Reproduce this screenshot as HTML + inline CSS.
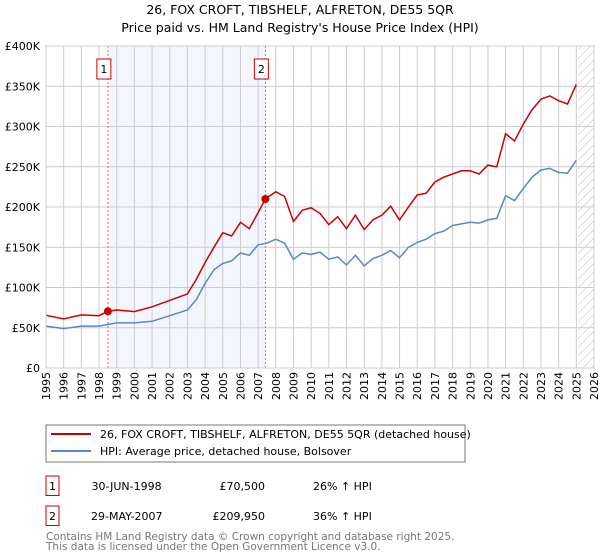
<!DOCTYPE html>
<html><head><meta charset="utf-8"><style>
body{margin:0;background:#fff;font-family:"Liberation Sans","DejaVu Sans",sans-serif}
#w{position:relative;width:600px;height:560px;overflow:hidden}
</style></head><body>
<div id="w">
<svg id="s" width="600" height="560" xmlns="http://www.w3.org/2000/svg" style="font-family:'DejaVu Sans',sans-serif">
<defs><pattern id="h" width="6" height="6" patternUnits="userSpaceOnUse" patternTransform="rotate(45)"><line x1="0" y1="0" x2="0" y2="6" stroke="#bbb" stroke-width="1"/></pattern></defs>
<text x="300" y="14" text-anchor="middle" font-size="12.5">26, FOX CROFT, TIBSHELF, ALFRETON, DE55 5QR</text>
<text x="300" y="32" text-anchor="middle" font-size="12.5">Price paid vs. HM Land Registry's House Price Index (HPI)</text>
<g id="g"></g>
<rect x="46" y="425" width="419" height="37" fill="#fff" stroke="#777"/>
<line x1="51" y1="434" x2="91" y2="434" stroke="#cc0000" stroke-width="2"/>
<text x="100" y="438" font-size="11">26, FOX CROFT, TIBSHELF, ALFRETON, DE55 5QR (detached house)</text>
<line x1="51" y1="451" x2="91" y2="451" stroke="#5588cc" stroke-width="2"/>
<text x="100" y="455" font-size="11">HPI: Average price, detached house, Bolsover</text>
<g font-size="11">
<rect x="46" y="476" width="13" height="19.5" fill="#fff" stroke="#cc0000"/><text x="52.5" y="490" text-anchor="middle">1</text>
<text x="91.5" y="490">30-JUN-1998</text><text x="265" y="490" text-anchor="end">£70,500</text><text x="313" y="490">26% ↑ HPI</text>
<rect x="46" y="506" width="13" height="19.5" fill="#fff" stroke="#cc0000"/><text x="52.5" y="520" text-anchor="middle">2</text>
<text x="91" y="520">29-MAY-2007</text><text x="265" y="520" text-anchor="end">£209,950</text><text x="313" y="520">36% ↑ HPI</text>
</g>
<text x="46" y="540" font-size="10.5" fill="#777">Contains HM Land Registry data © Crown copyright and database right 2025.</text>
<text x="46" y="550" font-size="10.5" fill="#777">This data is licensed under the Open Government Licence v3.0.</text>
</svg></div>
<script>
const redYears=[1995,1996,1997,1998,1998.5,1999,2000,2001,2002,2003,2003.5,2004,2004.5,2005,2005.5,2006,2006.5,2007,2007.41,2008,2008.5,2009,2009.5,2010,2010.5,2011,2011.5,2012,2012.5,2013,2013.5,2014,2014.5,2015,2015.5,2016,2016.5,2017,2017.5,2018,2018.5,2019,2019.5,2020,2020.5,2021,2021.5,2022,2022.5,2023,2023.5,2024,2024.5,2025];
const redValues=[65.5,61,66,65,70.5,72,70,76,84,92,110,131,150,168,164,181,173,193,209.95,219,213,182,196,199,192,178,188,173,190,172,184,190,201,184,200,215,217,231,237,241,245,245,241,252,250,291,282,303,321,334,338,332,328,352];
const hpiYears=[1995,1996,1997,1998,1999,2000,2001,2002,2003,2003.5,2004,2004.5,2005,2005.5,2006,2006.5,2007,2007.5,2008,2008.5,2009,2009.5,2010,2010.5,2011,2011.5,2012,2012.5,2013,2013.5,2014,2014.5,2015,2015.5,2016,2016.5,2017,2017.5,2018,2018.5,2019,2019.5,2020,2020.5,2021,2021.5,2022,2022.5,2023,2023.5,2024,2024.5,2025];
const hpiValues=[52,49,52,52,56,56,58,65,72,85,105,122,130,133,143,140,153,155,160,155,135,143,141,144,135,138,128,140,127,136,140,146,137,150,156,160,167,170,177,179,181,180,184,186,214,208,223,237,246,248,243,242,258];
const yTicks=[0,50,100,150,200,250,300,350,400];
const yTickLabels=["£0","£50K","£100K","£150K","£200K","£250K","£300K","£350K","£400K"];
const sales=[{n:"1",t:1998.5,v:70.5},{n:"2",t:2007.41,v:209.95}];
const X0=46,X1=594,Y0=368,Y1=46;
const x=t=>X0+(t-1995)/31*(X1-X0);
const y=v=>Y0-v/400*(Y0-Y1);
const NS="http://www.w3.org/2000/svg",g=document.getElementById('g');
function mk(tag,at,txt){const e=document.createElementNS(NS,tag);for(const k in at)e.setAttribute(k,at[k]);if(txt!=null)e.textContent=txt;g.appendChild(e);return e;}
let e;
e=mk('rect',{x:X0,y:Y1,width:X1-X0,height:Y0-Y1,fill:'#fff'});
e=mk('rect',{x:x(1998.5),y:Y1,width:x(2007.41)-x(1998.5),height:Y0-Y1,fill:'#eef3fc',opacity:0.7});


e=mk('rect',{x:x(2025.1),y:Y1,width:X1-x(2025.1),height:Y0-Y1,fill:'url(#h)'});


for(let yr=1995;yr<=2026;yr++){
 e=mk('line',{x1:x(yr),x2:x(yr),y1:Y1,y2:Y0,stroke:'#ccc','stroke-width':1});
 
 
 e=mk('text',{transform:`translate(${x(yr)+4},${Y0+4}) rotate(-90)`,'text-anchor':'end','font-size':11},String(yr));
 
 
}
yTicks.forEach((v,i)=>{
 e=mk('line',{x1:X0,x2:X1,y1:y(v),y2:y(v),stroke:'#ccc','stroke-width':1});
 
 
 e=mk('text',{x:X0-6,y:y(v)+4,'text-anchor':'end','font-size':11},yTickLabels[i]);
 
 
});
sales.forEach(s=>{
 e=mk('line',{x1:x(s.t),x2:x(s.t),y1:Y1,y2:Y0,stroke:'#e66','stroke-width':1,'stroke-dasharray':'2,2'});
 
 
});
function path(xs,vs){return xs.map((t,i)=>(i?'L':'M')+x(t).toFixed(1)+','+y(vs[i]).toFixed(1)).join('');}
e=mk('path',{d:path(hpiYears,hpiValues),fill:'none',stroke:'#5588cc','stroke-width':1.5});


e=mk('path',{d:path(redYears,redValues),fill:'none',stroke:'#cc0000','stroke-width':1.5});


sales.forEach(s=>{
 e=mk('circle',{cx:x(s.t),cy:y(s.v),r:4,fill:'#cc0000'});
 
 
 e=mk('rect',{x:x(s.t)-11,y:59,width:14,height:20,fill:'#fff',stroke:'#cc0000'});
 
 
 e=mk('text',{x:x(s.t)-4,y:73,'text-anchor':'middle','font-size':11},s.n);
 
 
});
e=mk('rect',{x:X0,y:Y1,width:X1-X0,height:Y0-Y1,fill:'none',stroke:'#ccc'});
</script>
</body></html>
